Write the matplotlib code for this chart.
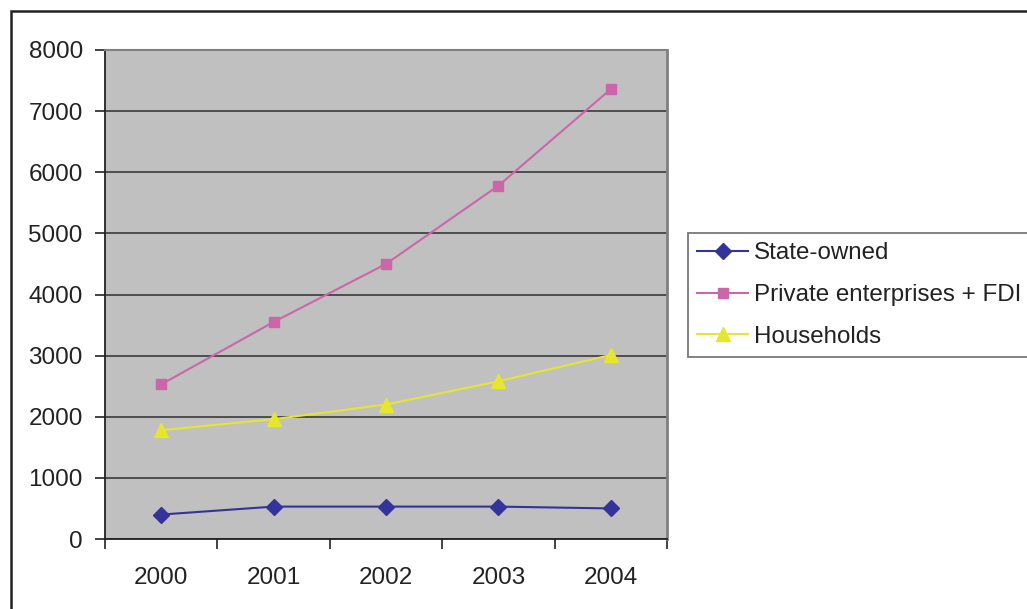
import matplotlib.pyplot as plt
import matplotlib.patches as mpatches
import numpy as np

plt.rcParams['font.family'] = ['Liberation Sans', 'DejaVu Sans']

# Datos por año
anios = ['2000', '2001', '2002', '2003', '2004']
estatal = [400, 530, 530, 530, 500]
privadas_fdi = [2530, 3550, 4500, 5780, 7360]
hogares = [1780, 1960, 2200, 2580, 3010]

fig = plt.figure(figsize=(10.27, 6.09), dpi=100, facecolor='white')
ax = fig.add_axes([105 / 1027, 1 - 539 / 609, 562 / 1027, 489 / 609])
ax.set_facecolor('#C0C0C0')

x = np.arange(len(anios))
ax.plot(x, estatal, color='#333399', lw=1.5, marker='D', ms=8, label='State-owned', zorder=3)
ax.plot(x, privadas_fdi, color='#CC66AA', lw=1.5, marker='s', ms=7.5, label='Private enterprises + FDI', zorder=3)
ax.plot(x, hogares, color='#E6E62E', lw=1.5, marker='^', ms=10, label='Households', zorder=3)

ax.set_xlim(-0.5, 4.5)
ax.set_ylim(0, 8000)
ax.set_yticks(range(0, 8001, 1000))
ax.set_xticks(np.arange(-0.5, 5, 1))
ax.set_xticklabels([])
ax.set_xticks(x, minor=True)
ax.set_xticklabels(anios, minor=True)

ax.tick_params(axis='y', direction='out', length=7, width=1.2, pad=9, labelsize=17.5, colors='#222222')
ax.tick_params(axis='x', which='major', direction='out', length=7, width=1.2, colors='#222222')
ax.tick_params(axis='x', which='minor', length=0, pad=20, labelsize=17.5, labelcolor='#222222')

ax.grid(True, axis='y', color='#3a3a3a', lw=1.2, zorder=1)
ax.set_axisbelow(True)

ax.spines['left'].set_color('#222222')
ax.spines['bottom'].set_color('#222222')
ax.spines['left'].set_linewidth(1.3)
ax.spines['bottom'].set_linewidth(1.3)
ax.spines['top'].set_color('#808080')
ax.spines['right'].set_color('#808080')
ax.spines['top'].set_linewidth(1.5)
ax.spines['right'].set_linewidth(2)

leg = ax.legend(loc='upper left', bbox_to_anchor=(688 / 1027, 1 - 233 / 609),
                bbox_transform=fig.transFigure, fontsize=17.4, frameon=True,
                fancybox=False, handlelength=2.1, handletextpad=0.25,
                labelspacing=0.82, borderpad=0.38, borderaxespad=0)
leg.get_frame().set_edgecolor('#555555')
leg.get_frame().set_linewidth(1.3)
for t in leg.get_texts():
    t.set_color('#222222')

# Marco exterior del gráfico
marco = mpatches.Rectangle((10.5 / 1027, -0.05), 1.1, 1 - 10.5 / 609 + 0.05,
                           transform=fig.transFigure, fill=False,
                           edgecolor='#222222', lw=1.8, clip_on=False)
fig.patches.append(marco)

fig.savefig('out.png', dpi=100, facecolor='white')
plt.close()
